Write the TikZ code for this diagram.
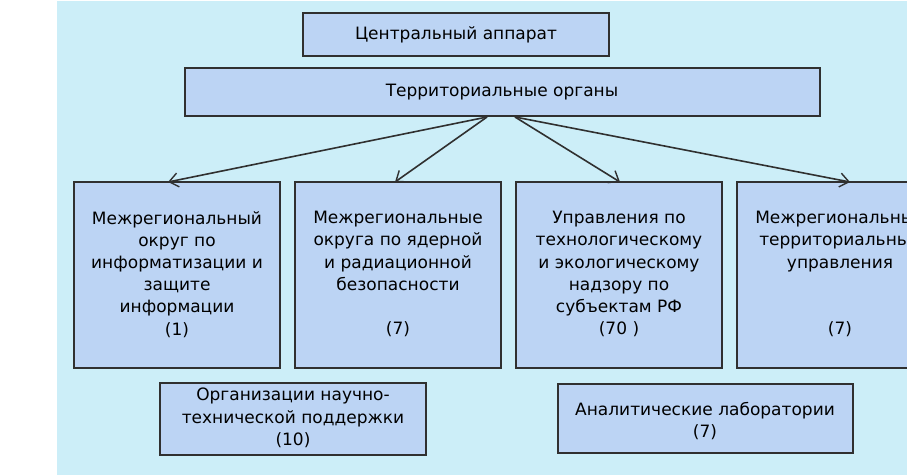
\documentclass[tikz,border=0pt]{standalone}
\usepackage{fontspec}
\setmainfont{DejaVu Sans}
\usetikzlibrary{arrows.meta}
\definecolor{bgc}{HTML}{CCEEF8}
\definecolor{boxc}{HTML}{BCD4F4}
\definecolor{edge}{HTML}{303030}
\begin{document}
\begin{tikzpicture}[x=1pt,y=-1pt,
  box/.style={draw=edge,line width=1.5pt,fill=boxc},
  txt/.style={align=center,font=\fontsize{17}{22.2}\selectfont,text=black,inner sep=0pt},
  arr/.style={draw=edge,line width=1.6pt,-{Straight Barb[length=9pt,width=14pt,line width=1.4pt]}}]
\useasboundingbox (0,0) rectangle (907,475);
\clip (0,0) rectangle (907,475);
\fill[bgc] (57,1) rectangle (907,475);
\draw[box] (303,13) rectangle (609,56);
\node[txt] (c) at (456,35) {Центральный аппарат};
\draw[box] (185,68) rectangle (820,116);
\node[txt] (t) at (502,92) {Территориальные органы};
\coordinate (tl) at (487,117);
\coordinate (tr) at (515,117);
\draw[box] (74,182) rectangle (280,368);
\draw[box] (295,182) rectangle (501,368);
\draw[box] (516,182) rectangle (722,368);
\draw[box] (737,182) rectangle (950,368);
\coordinate (b1) at (168,182);
\coordinate (b2) at (395,182);
\coordinate (b3) at (620,182);
\coordinate (b4) at (850,182);
\draw[arr] (tl) -- (b1);
\draw[arr] (tl) -- (b2);
\draw[arr] (tr) -- (b3);
\draw[arr] (tr) -- (b4);
\node[txt,anchor=north] (n1) at (177,211) {Межрегиональный\\округ по\\информатизации и\\защите\\информации\\(1)};
\node[txt,anchor=north] (n2) at (398,211) {Межрегиональные\\округа по ядерной\\и радиационной\\безопасности\\\mbox{}\\(7)};
\node[txt,anchor=north] (n3) at (619,211) {Управления по\\технологическому\\и экологическому\\надзору по\\субъектам РФ\\(70 )};
\node[txt,anchor=north] (n4) at (840,211) {Межрегиональные\\территориальные\\управления\\\mbox{}\\\mbox{}\\(7)};
\draw[box] (160,383) rectangle (426,455);
\node[txt] (o) at (293,418) {Организации научно-\\технической поддержки\\(10)};
\draw[box] (558,384) rectangle (853,453);
\node[txt] (l) at (705,421) {Аналитические лаборатории\\(7)};
\end{tikzpicture}
\end{document}
